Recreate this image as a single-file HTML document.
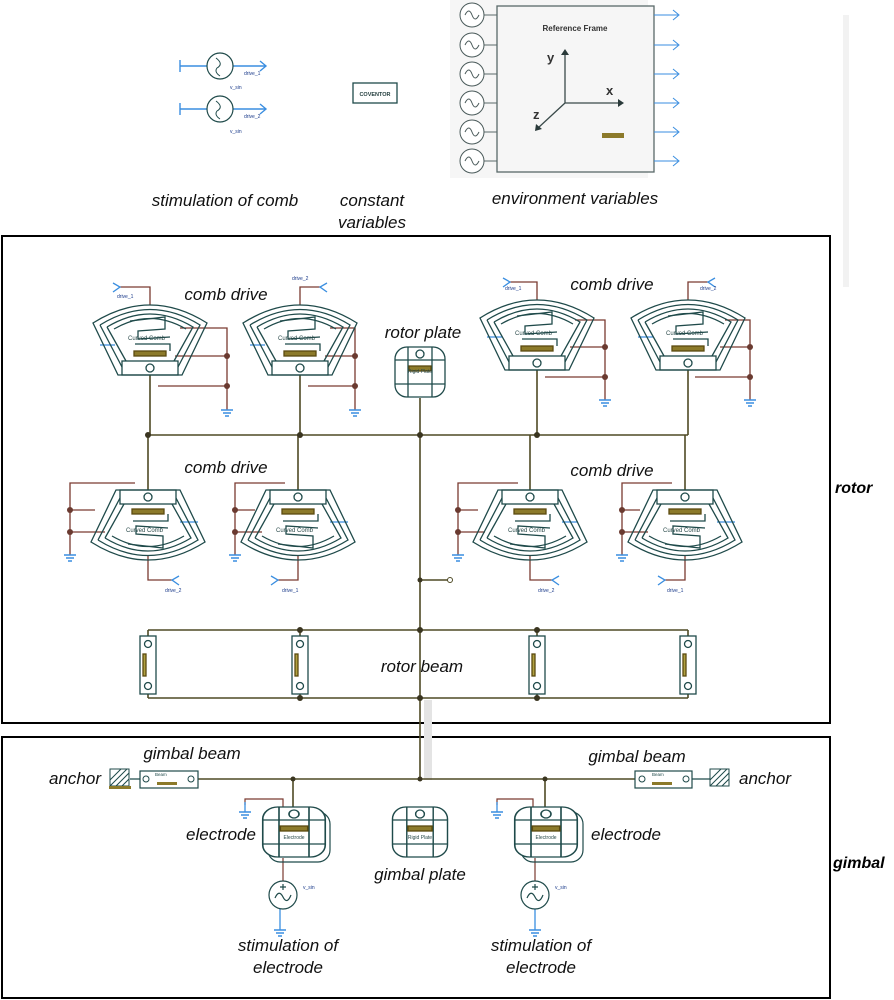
<!DOCTYPE html>
<html><head><meta charset="utf-8"><style>
body{margin:0;background:#fff}
svg{display:block}
.l{font-family:"Liberation Sans",sans-serif;font-style:italic;fill:#111}
.s{font-family:"Liberation Sans",sans-serif;fill:#1a3a8a;font-size:5px}
</style></head><body>
<svg width="894" height="1000" viewBox="0 0 894 1000" xmlns="http://www.w3.org/2000/svg">
<defs>
<g id="comb" fill="none" stroke="#1f4a4a" stroke-width="1.3">
 <path d="M-57 -16 Q0 -52 57 -16 L32 36 L-32 36 Z"/>
 <path d="M-50 -14 Q0 -45 50 -14 L28 28"/>
 <path d="M-50 -14 L-28 28"/>
 <path d="M-43 -12 Q0 -38 43 -12 L24 22"/>
 <path d="M-43 -12 L-24 22"/>
 <path d="M-36 -10 Q0 -31 36 -10"/>
 <path d="M-20 -18 L15 -22 L15 -10 L-12 -8 L-12 0 L20 -2"/>
 <path d="M-15 5 L20 5 L20 12"/>
 <rect x="-28" y="22" width="56" height="14"/>
 <circle cx="0" cy="29" r="4"/>
 <rect x="-16" y="12" width="32" height="5" fill="#8c7a2a" stroke="#5a4a10"/>
</g>
<g id="beam" fill="none" stroke="#1f4a4a" stroke-width="1.3">
 <rect x="-8" y="0" width="16" height="58" fill="#fff"/>
 <circle cx="0" cy="8" r="3.5"/><circle cx="0" cy="50" r="3.5"/>
 <rect x="-5" y="18" width="3" height="22" fill="#b0a040" stroke="#5a4a10"/>
</g>
<g id="plate" fill="#fff" stroke="#1f4a4a" stroke-width="1.3">
 <rect x="-25" y="-25" width="50" height="50" rx="12"/>
 <path d="M-12 -25 V25 M12 -25 V25 M-25 -12 H25 M-25 12 H25" fill="none"/>
 <circle cx="0" cy="-18" r="4"/>
 <rect x="-11" y="-6" width="22" height="5" fill="#8c7a2a" stroke="#5a4a10"/>
</g>
<g id="src" fill="none" stroke="#1f4a4a" stroke-width="1.2">
 <circle r="14" fill="#fff"/>
 <path d="M-8 3 Q-4 -6 0 2 Q4 10 8 0"/>
 <path d="M0 -11 V-5 M-3 -8 H3"/>
</g>
<g id="gnd" stroke="#3a8ee0" stroke-width="1.4"><path d="M-6 0 H6 M-4 3 H4 M-2 6 H2"/></g>
<g id="envsrc" fill="none" stroke="#4a5a5a" stroke-width="1"><circle r="12" fill="#fff"/><path d="M-7 0 Q-3 -8 0 0 Q3 8 7 0"/></g>
</defs>

<rect x="843" y="15" width="6" height="272" fill="#f2f2f2"/>

<g stroke-width="1.4">
 <path d="M180 66 H207" stroke="#3a8ee0"/><path d="M180 60 V72" stroke="#3a8ee0"/>
 <path d="M233 66 H265" stroke="#3a8ee0"/><path d="M260 61 L266 66 L260 71" fill="none" stroke="#3a8ee0"/>
 <path d="M180 109 H207" stroke="#3a8ee0"/><path d="M180 103 V115" stroke="#3a8ee0"/>
 <path d="M233 109 H265" stroke="#3a8ee0"/><path d="M260 104 L266 109 L260 114" fill="none" stroke="#3a8ee0"/>
</g>
<g fill="#fff" stroke="#1f4a4a" stroke-width="1.2"><circle cx="220" cy="66" r="13"/><circle cx="220" cy="109" r="13"/></g>
<path d="M216 58 Q224 64 217 68 Q214 72 220 76 M216 101 Q224 107 217 111 Q214 115 220 119" fill="none" stroke="#1f4a4a"/>
<text class="s" x="244" y="75">drive_1</text><text class="s" x="230" y="89">v_sin</text>
<text class="s" x="244" y="118">drive_2</text><text class="s" x="230" y="133">v_sin</text>
<rect x="353" y="83" width="44" height="20" fill="#fff" stroke="#1f4a4a" stroke-width="1.3"/>
<text x="375" y="96" text-anchor="middle" font-family="Liberation Sans" font-size="5.5" font-weight="bold" fill="#1f3a3a">COVENTOR</text>

<rect x="450" y="0" width="198" height="178" fill="#f6f6f6"/>
<rect x="497" y="6" width="157" height="166" fill="#f6f6f6" stroke="#5a6a6a" stroke-width="1.3"/>
<g stroke="#5a6a6a" stroke-width="1">
 <path d="M484 15 H497 M484 45 H497 M484 74 H497 M484 103 H497 M484 132 H497 M484 161 H497"/>
</g>
<use href="#envsrc" x="472" y="15"/><use href="#envsrc" x="472" y="45"/><use href="#envsrc" x="472" y="74"/>
<use href="#envsrc" x="472" y="103"/><use href="#envsrc" x="472" y="132"/><use href="#envsrc" x="472" y="161"/>
<g stroke="#3a8ee0" stroke-width="1" fill="none">
 <path d="M654 15 H678 M673 10 L679 15 L673 20"/><path d="M654 45 H678 M673 40 L679 45 L673 50"/>
 <path d="M654 74 H678 M673 69 L679 74 L673 79"/><path d="M654 103 H678 M673 98 L679 103 L673 108"/>
 <path d="M654 132 H678 M673 127 L679 132 L673 137"/><path d="M654 161 H678 M673 156 L679 161 L673 166"/>
</g>
<text x="575" y="31" text-anchor="middle" font-family="Liberation Sans" font-size="8" font-weight="bold" fill="#333">Reference Frame</text>
<g stroke="#3a4a4a" stroke-width="1.3" fill="none"><path d="M565 103 V53 M565 103 H620 M565 103 L538 128"/></g>
<path d="M561 55 L565 49 L569 55 Z M618 99 L624 103 L618 107 Z M536 124 L535 131 L542 129 Z" fill="#2a3a3a"/>
<text x="547" y="62" font-family="Liberation Sans" font-size="13" font-weight="bold" fill="#333">y</text>
<text x="606" y="95" font-family="Liberation Sans" font-size="13" font-weight="bold" fill="#333">x</text>
<text x="533" y="119" font-family="Liberation Sans" font-size="13" font-weight="bold" fill="#333">z</text>
<rect x="602" y="133" width="22" height="5" fill="#8c7a2a"/>

<g font-style="italic">
<text class="l" font-style="italic" x="225" y="206" font-size="17" text-anchor="middle">stimulation of comb</text>
<text class="l" font-style="italic" x="372" y="206" font-size="17" text-anchor="middle">constant</text>
<text class="l" font-style="italic" x="372" y="228" font-size="17" text-anchor="middle">variables</text>
<text class="l" font-style="italic" x="575" y="204" font-size="17" text-anchor="middle">environment variables</text>
</g>

<rect x="2" y="236" width="828" height="487" fill="none" stroke="#000" stroke-width="2"/>
<rect x="2" y="737" width="828" height="261" fill="none" stroke="#000" stroke-width="2"/>
<rect x="424" y="700" width="8" height="80" fill="#e4e4e4"/>
<text x="835" y="493" font-family="Liberation Sans" font-style="italic" font-weight="bold" font-size="16">rotor</text>
<text x="833" y="868" font-family="Liberation Sans" font-style="italic" font-weight="bold" font-size="16">gimbal</text>

<g stroke="#4f4a25" stroke-width="1.6" fill="none">
 <path d="M148 435 H688"/>
 <path d="M150 375 V435 M148 435 V490"/>
 <path d="M300 375 V435 M298 435 V490"/>
 <path d="M537 370 V435 M530 435 V490"/>
 <path d="M688 370 V435 M685 435 V490"/>
 <path d="M420 398 V780"/>
 <path d="M420 580 H448"/>
 <path d="M148 630 H688 M148 698 H688"/>
 <path d="M148 630 V636 M300 630 V636 M537 630 V636 M688 630 V636"/>
 <path d="M148 694 V698 M300 694 V698 M537 694 V698 M688 694 V698"/>
 <path d="M197 779 H640"/>
 <path d="M293 779 V808 M545 779 V808"/>
</g>
<circle cx="450" cy="580" r="2.5" fill="#fff" stroke="#4f4a25"/>
<g fill="#3a3520">
 <circle cx="148" cy="435" r="3"/><circle cx="300" cy="435" r="3"/><circle cx="420" cy="435" r="3"/><circle cx="537" cy="435" r="3"/>
 <circle cx="420" cy="580" r="2.5"/><circle cx="420" cy="630" r="3"/><circle cx="300" cy="630" r="3"/><circle cx="537" cy="630" r="3"/>
 <circle cx="420" cy="698" r="3"/><circle cx="300" cy="698" r="3"/><circle cx="537" cy="698" r="3"/>
 <circle cx="293" cy="779" r="2.5"/><circle cx="420" cy="779" r="2.5"/><circle cx="545" cy="779" r="2.5"/>
</g>

<g stroke="#7a3a30" stroke-width="1.3" fill="none">
 <path d="M150 305 V287 H120"/><path d="M180 328 H227 V410 M175 356 H227 M158 386 H227"/>
 <path d="M300 305 V287 H320"/><path d="M330 328 H355 V410 M325 356 H355 M308 386 H355"/>
 <path d="M537 300 V282 H510"/><path d="M575 320 H605 V400 M570 347 H605 M545 377 H605"/>
 <path d="M688 300 V282 H708"/><path d="M725 320 H750 V400 M720 347 H750 M695 377 H750"/>
</g>
<g fill="#6a3a30"><circle cx="227" cy="356" r="3"/><circle cx="227" cy="386" r="3"/><circle cx="355" cy="356" r="3"/><circle cx="355" cy="386" r="3"/><circle cx="605" cy="347" r="3"/><circle cx="605" cy="377" r="3"/><circle cx="750" cy="347" r="3"/><circle cx="750" cy="377" r="3"/></g>
<use href="#gnd" x="227" y="410"/><use href="#gnd" x="355" y="410"/><use href="#gnd" x="605" y="400"/><use href="#gnd" x="750" y="400"/>
<g stroke="#3a8ee0" stroke-width="1.3" fill="none">
 <path d="M113 283 L120 287 L113 292"/><path d="M327 283 L320 287 L327 292"/><path d="M503 278 L510 282 L503 287"/><path d="M715 278 L708 282 L715 287"/>
 <path d="M100 345 H115 M250 345 H265 M487 337 H502 M638 337 H653"/>
</g>
<use href="#comb" x="150" y="339"/><use href="#comb" x="300" y="339"/><use href="#comb" x="537" y="334"/><use href="#comb" x="688" y="334"/>
<g class="s"><text x="117" y="298">drive_1</text><text x="292" y="280">drive_2</text><text x="505" y="290">drive_1</text><text x="700" y="290">drive_2</text>
<text x="128" y="340" font-size="6" fill="#2a4a4a">Curved Comb</text><text x="278" y="340" font-size="6" fill="#2a4a4a">Curved Comb</text>
<text x="515" y="335" font-size="6" fill="#2a4a4a">Curved Comb</text><text x="666" y="335" font-size="6" fill="#2a4a4a">Curved Comb</text></g>

<g stroke="#7a3a30" stroke-width="1.3" fill="none">
 <path d="M148 555 V580 H172"/><path d="M135 483 H70 V555 M95 510 H70 M105 532 H70"/>
 <path d="M298 555 V580 H278"/><path d="M285 483 H235 V555 M255 510 H235 M262 532 H235"/>
 <path d="M530 555 V580 H552"/><path d="M518 483 H458 V555 M478 510 H458 M485 532 H458"/>
 <path d="M685 555 V580 H665"/><path d="M672 483 H622 V555 M640 510 H622 M648 532 H622"/>
</g>
<g fill="#6a3a30"><circle cx="70" cy="510" r="3"/><circle cx="70" cy="532" r="3"/><circle cx="235" cy="510" r="3"/><circle cx="235" cy="532" r="3"/><circle cx="458" cy="510" r="3"/><circle cx="458" cy="532" r="3"/><circle cx="622" cy="510" r="3"/><circle cx="622" cy="532" r="3"/></g>
<use href="#gnd" x="70" y="555"/><use href="#gnd" x="235" y="555"/><use href="#gnd" x="458" y="555"/><use href="#gnd" x="622" y="555"/>
<g stroke="#3a8ee0" stroke-width="1.3" fill="none">
 <path d="M179 576 L172 580 L179 585"/><path d="M271 576 L278 580 L271 585"/><path d="M559 576 L552 580 L559 585"/><path d="M658 576 L665 580 L658 585"/>
 <path d="M180 522 H198 M330 522 H348 M562 522 H578 M717 522 H735"/>
</g>
<use href="#comb" transform="translate(148 526) scale(1 -1)"/><use href="#comb" transform="translate(298 526) scale(1 -1)"/>
<use href="#comb" transform="translate(530 526) scale(1 -1)"/><use href="#comb" transform="translate(685 526) scale(1 -1)"/>
<g class="s"><text x="165" y="592">drive_2</text><text x="282" y="592">drive_1</text><text x="538" y="592">drive_2</text><text x="667" y="592">drive_1</text>
<text x="126" y="532" font-size="6" fill="#2a4a4a">Curved Comb</text><text x="276" y="532" font-size="6" fill="#2a4a4a">Curved Comb</text>
<text x="508" y="532" font-size="6" fill="#2a4a4a">Curved Comb</text><text x="663" y="532" font-size="6" fill="#2a4a4a">Curved Comb</text></g>

<use href="#plate" x="420" y="372"/>
<text x="420" y="373" text-anchor="middle" font-family="Liberation Sans" font-size="5" fill="#2a4a4a">Rigid Plate</text>

<use href="#beam" x="148" y="636"/><use href="#beam" x="300" y="636"/><use href="#beam" x="537" y="636"/><use href="#beam" x="688" y="636"/>

<text class="l" font-style="italic" x="226" y="300" font-size="17" text-anchor="middle">comb drive</text>
<text class="l" font-style="italic" x="612" y="290" font-size="17" text-anchor="middle">comb drive</text>
<text class="l" font-style="italic" x="423" y="338" font-size="17" text-anchor="middle">rotor plate</text>
<text class="l" font-style="italic" x="226" y="473" font-size="17" text-anchor="middle">comb drive</text>
<text class="l" font-style="italic" x="612" y="476" font-size="17" text-anchor="middle">comb drive</text>
<text class="l" font-style="italic" x="422" y="672" font-size="17" text-anchor="middle">rotor beam</text>

<g fill="#fff" stroke="#1f4a4a" stroke-width="1.2">
 <rect x="140" y="771" width="58" height="17"/><rect x="635" y="771" width="57" height="17"/>
</g>
<g fill="none" stroke="#1f4a4a"><circle cx="146" cy="779" r="3"/><circle cx="191" cy="779" r="3"/><circle cx="642" cy="779" r="3"/><circle cx="686" cy="779" r="3"/></g>
<path d="M130 779 H140 M692 779 H710" stroke="#1f4a4a" stroke-width="1.2"/>
<rect x="157" y="782" width="20" height="3" fill="#8c7a2a"/><rect x="652" y="782" width="20" height="3" fill="#8c7a2a"/>
<text x="155" y="776" font-family="Liberation Sans" font-size="4.5" fill="#1f4a4a">Beam</text><text x="652" y="776" font-family="Liberation Sans" font-size="4.5" fill="#1f4a4a">Beam</text>
<g stroke="#1f4a4a" stroke-width="1">
 <rect x="110" y="769" width="19" height="17" fill="#fff"/><path d="M110 780 L121 769 M110 786 L127 769 M116 786 L129 773 M122 786 L129 779"/>
 <rect x="710" y="769" width="19" height="17" fill="#fff"/><path d="M710 780 L721 769 M710 786 L727 769 M716 786 L729 773 M722 786 L729 779"/>
</g>
<rect x="109" y="786" width="22" height="3" fill="#8c7a2a"/>

<g stroke="#7a3a30" stroke-width="1.2" fill="none"><path d="M283 808 V799 H245 V805 M533 808 V799 H497 V805"/><path d="M283 858 V882 M535 858 V882"/></g>
<use href="#gnd" x="245" y="812"/><use href="#gnd" x="497" y="812"/>
<path d="M245 802 V812 M497 802 V812 M280 909 V930 M535 909 V930" stroke="#3a8ee0" stroke-width="1.3"/>
<use href="#gnd" x="280" y="930"/><use href="#gnd" x="535" y="930"/>
<rect x="268" y="812" width="62" height="50" rx="12" fill="none" stroke="#1f4a4a" stroke-width="1.2"/>
<rect x="521" y="812" width="62" height="50" rx="12" fill="none" stroke="#1f4a4a" stroke-width="1.2"/>
<use href="#plate" transform="translate(294 832) scale(1.25 1)"/>
<use href="#plate" transform="translate(420 832) scale(1.1 1)"/>
<use href="#plate" transform="translate(546 832) scale(1.25 1)"/>
<text x="294" y="839" text-anchor="middle" font-family="Liberation Sans" font-size="5" fill="#2a4a4a">Electrode</text>
<text x="420" y="839" text-anchor="middle" font-family="Liberation Sans" font-size="5" fill="#2a4a4a">Rigid Plate</text>
<text x="546" y="839" text-anchor="middle" font-family="Liberation Sans" font-size="5" fill="#2a4a4a">Electrode</text>
<use href="#src" x="283" y="895"/><use href="#src" x="535" y="895"/>
<text class="s" x="303" y="889">v_sin</text><text class="s" x="555" y="889">v_sin</text>

<text class="l" font-style="italic" x="192" y="759" font-size="17" text-anchor="middle">gimbal beam</text>
<text class="l" font-style="italic" x="637" y="762" font-size="17" text-anchor="middle">gimbal beam</text>
<text class="l" font-style="italic" x="75" y="784" font-size="17" text-anchor="middle">anchor</text>
<text class="l" font-style="italic" x="765" y="784" font-size="17" text-anchor="middle">anchor</text>
<text class="l" font-style="italic" x="221" y="840" font-size="17" text-anchor="middle">electrode</text>
<text class="l" font-style="italic" x="626" y="840" font-size="17" text-anchor="middle">electrode</text>
<text class="l" font-style="italic" x="420" y="880" font-size="17" text-anchor="middle">gimbal plate</text>
<text class="l" font-style="italic" x="288" y="951" font-size="17" text-anchor="middle">stimulation of</text>
<text class="l" font-style="italic" x="288" y="973" font-size="17" text-anchor="middle">electrode</text>
<text class="l" font-style="italic" x="541" y="951" font-size="17" text-anchor="middle">stimulation of</text>
<text class="l" font-style="italic" x="541" y="973" font-size="17" text-anchor="middle">electrode</text>
</svg>
</body></html>
